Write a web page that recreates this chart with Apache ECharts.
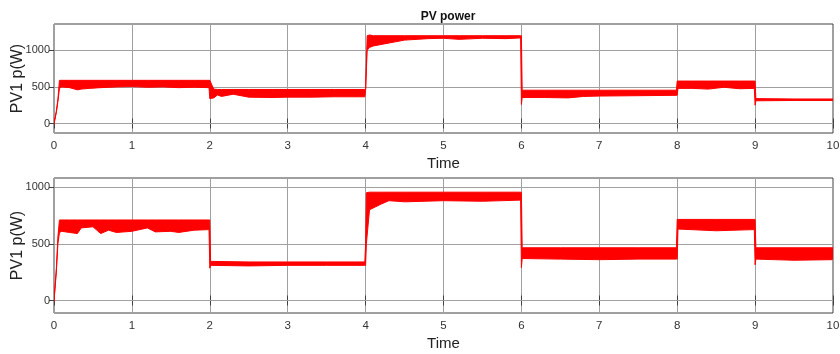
<!DOCTYPE html>
<html>
<head>
<meta charset="utf-8">
<script src="https://cdn.jsdelivr.net/npm/echarts@6/dist/echarts.min.js"></script>
<style>
html,body{margin:0;padding:0;background:#fff;}
#c{width:840px;height:354px;}
</style>
</head>
<body>
<div id="c"></div>
<script>
// ---- Data ----
const chartTitle = 'PV power';
const yName = 'PV1 p(W)';
const xName = 'Time';
const yTicks = [0, 500, 1000];
const xTicks = [0,1,2,3,4,5,6,7,8,9,10];

// Top plot: time, band upper and lower envelope (W)
const time1  = [0, 0.03, 0.05, 0.07, 0.1, 0.2, 0.3, 0.35, 0.45, 0.6, 0.8, 1.0, 1.2, 1.4, 1.6, 1.8, 1.99,
                2.0, 2.05, 2.1, 2.15, 2.3, 2.5, 2.8, 3.0, 3.3, 3.6, 3.99,
                4.0, 4.02, 4.05, 4.1, 4.3, 4.5, 4.8, 5.0, 5.2, 5.5, 5.8, 5.99,
                6.0, 6.01, 6.3, 6.6, 6.8, 7.0, 7.5, 7.99,
                8.0, 8.01, 8.2, 8.4, 8.6, 8.8, 8.99,
                9.0, 9.01, 9.5, 10];
const upper1 = [10, 170, 330, 590, 590, 590, 590, 590, 590, 590, 590, 590, 590, 590, 590, 590, 590,
                590, 470, 465, 465, 465, 465, 465, 465, 465, 465, 465,
                470, 1200, 1210, 1200, 1200, 1200, 1200, 1200, 1200, 1200, 1200, 1200,
                1200, 455, 455, 455, 455, 455, 455, 455,
                580, 580, 580, 580, 580, 580, 580,
                580, 340, 335, 335];
const lower1 = [-10, 150, 300, 480, 500, 490, 460, 470, 480, 490, 500, 505, 495, 500, 490, 495, 490,
                340, 350, 390, 370, 400, 360, 355, 360, 360, 365, 365,
                455, 1000, 1040, 1060, 1100, 1140, 1160, 1165, 1150, 1165, 1160, 1170,
                260, 355, 355, 350, 370, 375, 380, 385,
                385, 480, 480, 470, 495, 475, 480,
                250, 310, 315, 315];

// Bottom plot
const time2  = [0, 0.03, 0.05, 0.07, 0.1, 0.2, 0.3, 0.35, 0.5, 0.6, 0.7, 0.8, 1.0, 1.2, 1.3, 1.5, 1.6, 1.8, 1.99,
                2.0, 2.01, 2.5, 3.0, 3.5, 3.99,
                4.0, 4.01, 4.05, 4.2, 4.3, 4.5, 5.0, 5.5, 5.99,
                6.0, 6.01, 6.5, 7.0, 7.5, 7.99,
                8.0, 8.01, 8.5, 8.99,
                9.0, 9.01, 9.5, 9.99, 10];
const upper2 = [10, 280, 560, 710, 710, 710, 710, 710, 710, 710, 710, 710, 710, 710, 710, 710, 710, 710, 710,
                710, 345, 340, 340, 340, 340,
                500, 950, 955, 955, 955, 955, 955, 955, 955,
                955, 465, 465, 465, 465, 465,
                715, 715, 715, 715,
                715, 465, 465, 465, 465];
const lower2 = [-10, 250, 500, 600, 610, 600, 590, 640, 650, 590, 620, 600, 610, 640, 605, 610, 600, 620, 625,
                285, 310, 305, 310, 310, 310,
                310, 500, 800, 850, 880, 870, 880, 875, 885,
                290, 370, 365, 360, 365, 365,
                365, 630, 615, 625,
                315, 365, 355, 360, 380];

// ---- Chart ----
const FONT = 'Liberation Sans, Arial, Helvetica, sans-serif';
const RED = '#ff0000';
const GRIDC = '#a0a0a0';
const AXC = '#404040';
const ranges = [[-130, 1360], [-110, 1080]];

function mainX(gi) {
  return {
    type: 'value', gridIndex: gi, min: 0, max: 10, interval: 1,
    axisLine: { show: false },
    axisTick: { show: true, inside: true, length: 5, lineStyle: { color: AXC } },
    axisLabel: { show: true, fontFamily: FONT, fontSize: 11.5, color: '#333', margin: 7 },
    splitLine: { show: true, lineStyle: { color: GRIDC, width: 1 } },
    name: xName, nameLocation: 'middle', nameGap: 23, nameMoveOverlap: false,
    nameTextStyle: { fontFamily: FONT, fontSize: 15, color: '#222' }
  };
}
function topX(gi) {
  return {
    type: 'value', gridIndex: gi, position: 'top', min: 0, max: 10, interval: 1,
    axisLine: { show: false },
    axisTick: { show: true, inside: true, length: 5, lineStyle: { color: AXC } },
    axisLabel: { show: false }, splitLine: { show: false }
  };
}
function mainY(gi) {
  return {
    type: 'value', gridIndex: gi, min: ranges[gi][0], max: ranges[gi][1],
    axisLine: { show: false },
    axisTick: { show: true, inside: true, length: 5, customValues: yTicks, lineStyle: { color: AXC } },
    axisLabel: { show: true, customValues: yTicks, formatter: v => String(v),
                 fontFamily: FONT, fontSize: 11, color: '#333', margin: 4 },
    splitLine: { show: false },
    name: yName, nameLocation: 'middle', nameGap: 28, nameRotate: 90, nameMoveOverlap: false,
    nameTextStyle: { fontFamily: FONT, fontSize: 16, color: '#222' }
  };
}
function rightY(gi) {
  return {
    type: 'value', gridIndex: gi, position: 'right', min: ranges[gi][0], max: ranges[gi][1],
    axisLine: { show: false },
    axisTick: { show: true, inside: true, length: 5, customValues: yTicks, lineStyle: { color: AXC } },
    axisLabel: { show: false }, splitLine: { show: false }
  };
}
function bandSeries(gi, t, up, lo) {
  const ai = gi * 2;
  return {
    type: 'custom', coordinateSystem: 'cartesian2d', xAxisIndex: ai, yAxisIndex: ai,
    z: 20, silent: true, clip: true,
    data: t.map((x, i) => [x, lo[i], up[i]]),
    encode: { x: 0, y: [1, 2] },
    markLine: {
      silent: true, symbol: 'none', label: { show: false }, z: 1,
      lineStyle: { color: GRIDC, type: 'solid', width: 1 },
      data: yTicks.map(v => ({ yAxis: v }))
    },
    renderItem: function (params, api) {
      if (params.dataIndex !== 0) return null;
      const pts = [];
      for (let i = 0; i < t.length; i++) pts.push(api.coord([t[i], up[i]]));
      for (let i = t.length - 1; i >= 0; i--) pts.push(api.coord([t[i], lo[i]]));
      return {
        type: 'polygon',
        shape: { points: pts },
        style: { fill: RED, stroke: RED, lineWidth: 1 }
      };
    }
  };
}

const chart = echarts.init(document.getElementById('c'), null, { renderer: 'canvas' });
chart.setOption({
  animation: false,
  backgroundColor: '#fff',
  title: {
    text: chartTitle, left: 443, top: 6, textAlign: 'center',
    textStyle: { fontFamily: FONT, fontSize: 12, fontWeight: 'bold', color: '#111' }
  },
  grid: [
    { left: 54, right: 7, top: 24, height: 109, show: true, borderColor: AXC, borderWidth: 1,
      backgroundColor: 'transparent', containLabel: false, outerBoundsMode: 'none' },
    { left: 54, right: 7, top: 178, height: 135, show: true, borderColor: AXC, borderWidth: 1,
      backgroundColor: 'transparent', containLabel: false, outerBoundsMode: 'none' }
  ],
  xAxis: [mainX(0), topX(0), mainX(1), topX(1)],
  yAxis: [mainY(0), rightY(0), mainY(1), rightY(1)],
  series: [bandSeries(0, time1, upper1, lower1), bandSeries(1, time2, upper2, lower2)]
});
</script>
</body>
</html>
